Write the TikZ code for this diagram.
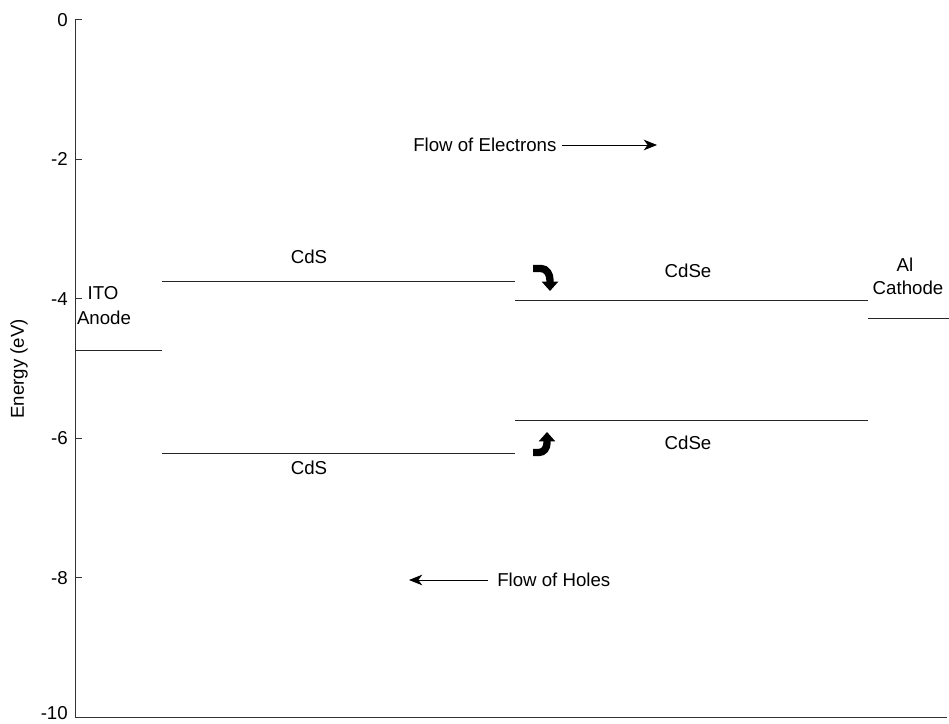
\documentclass[tikz,border=0pt]{standalone}
\usepackage{fontspec}
\setmainfont{Liberation Sans}
\usetikzlibrary{arrows.meta}
\begin{document}
\begin{tikzpicture}[x=0.75pt,y=-0.75pt,
  font=\fontsize{14}{16}\selectfont,
  axisline/.style={line width=0.75pt,black!80},
  level/.style={line width=0.75pt,black!85},
  lbl/.style={inner sep=0pt,anchor=center},
  ticklbl/.style={inner sep=0pt,anchor=east},
  flow/.style={line width=0.75pt,-{Stealth[length=10pt,width=8pt,inset=3pt]}},
  bentarrow/.style={line width=5.5pt,-{Triangle[length=7pt,width=12pt]}}]
\useasboundingbox (0,0) rectangle (949,724);
% axes
\coordinate (top) at (75,20);
\coordinate (origin) at (75,717);
\coordinate (xend) at (947,717);
\draw[axisline] (top) -- (origin) -- (xend);
\foreach \v/\y/\ly in {0/20/20,-2/159.4/159.4,-4/298.8/298.8,-6/438.2/438.2,-8/577.6/577.6,-10/717/713}{
  \draw[axisline] (75,\y) -- (82,\y);
  \node[ticklbl] (t\v) at (68,\ly) {\v};
}
\node[lbl,rotate=90] (ylabel) at (19,369) {Energy (eV)};
% levels
\coordinate (ito1) at (75,350); \coordinate (ito2) at (162,350);
\coordinate (cdsl1) at (162,281); \coordinate (cdsl2) at (515,281);
\coordinate (cdsh1) at (162,453); \coordinate (cdsh2) at (515,453);
\coordinate (cdsel1) at (515,300); \coordinate (cdsel2) at (868,300);
\coordinate (cdseh1) at (515,420); \coordinate (cdseh2) at (868,420);
\coordinate (al1) at (868,318); \coordinate (al2) at (949,318);
\draw[level] (ito1) -- (ito2);
\draw[level] (cdsl1) -- (cdsl2);
\draw[level] (cdsh1) -- (cdsh2);
\draw[level] (cdsel1) -- (cdsel2);
\draw[level] (cdseh1) -- (cdseh2);
\draw[level] (al1) -- (al2);
% labels
\node[lbl] (ito) at (103,293) {ITO};
\node[lbl] (anode) at (104,318) {Anode};
\node[lbl] (al) at (905,265) {Al};
\node[lbl] (cathode) at (908,288) {Cathode};
\node[lbl] (cdsup) at (309,257) {CdS};
\node[lbl] (cdsdown) at (309,468) {CdS};
\node[lbl] (cdseup) at (688,271) {CdSe};
\node[lbl] (cdsedown) at (688,443) {CdSe};
% flow arrows
\node[inner sep=0pt,anchor=west] (fe) at (413,145) {Flow of Electrons};
\coordinate (fetip) at (657,145);
\draw[flow] ([xshift=4pt]fe.east) -- (fetip);
\node[inner sep=0pt,anchor=west] (fh) at (497,580) {Flow of Holes};
\coordinate (fhtip) at (409,580);
\draw[flow] ([xshift=-7pt]fh.west) -- (fhtip);
% bent arrows
\coordinate (b1s) at (533,268.5);
\coordinate (b1e) at (550,291);
\draw[bentarrow] (b1s) -- (541,268.5) to[out=0,in=90] (550,280) -- (b1e);
\coordinate (b2s) at (533,452.5);
\coordinate (b2e) at (547,432);
\draw[bentarrow] (b2s) -- (539,452.5) to[out=0,in=-90] (547,443) -- (b2e);
\end{tikzpicture}
\end{document}
